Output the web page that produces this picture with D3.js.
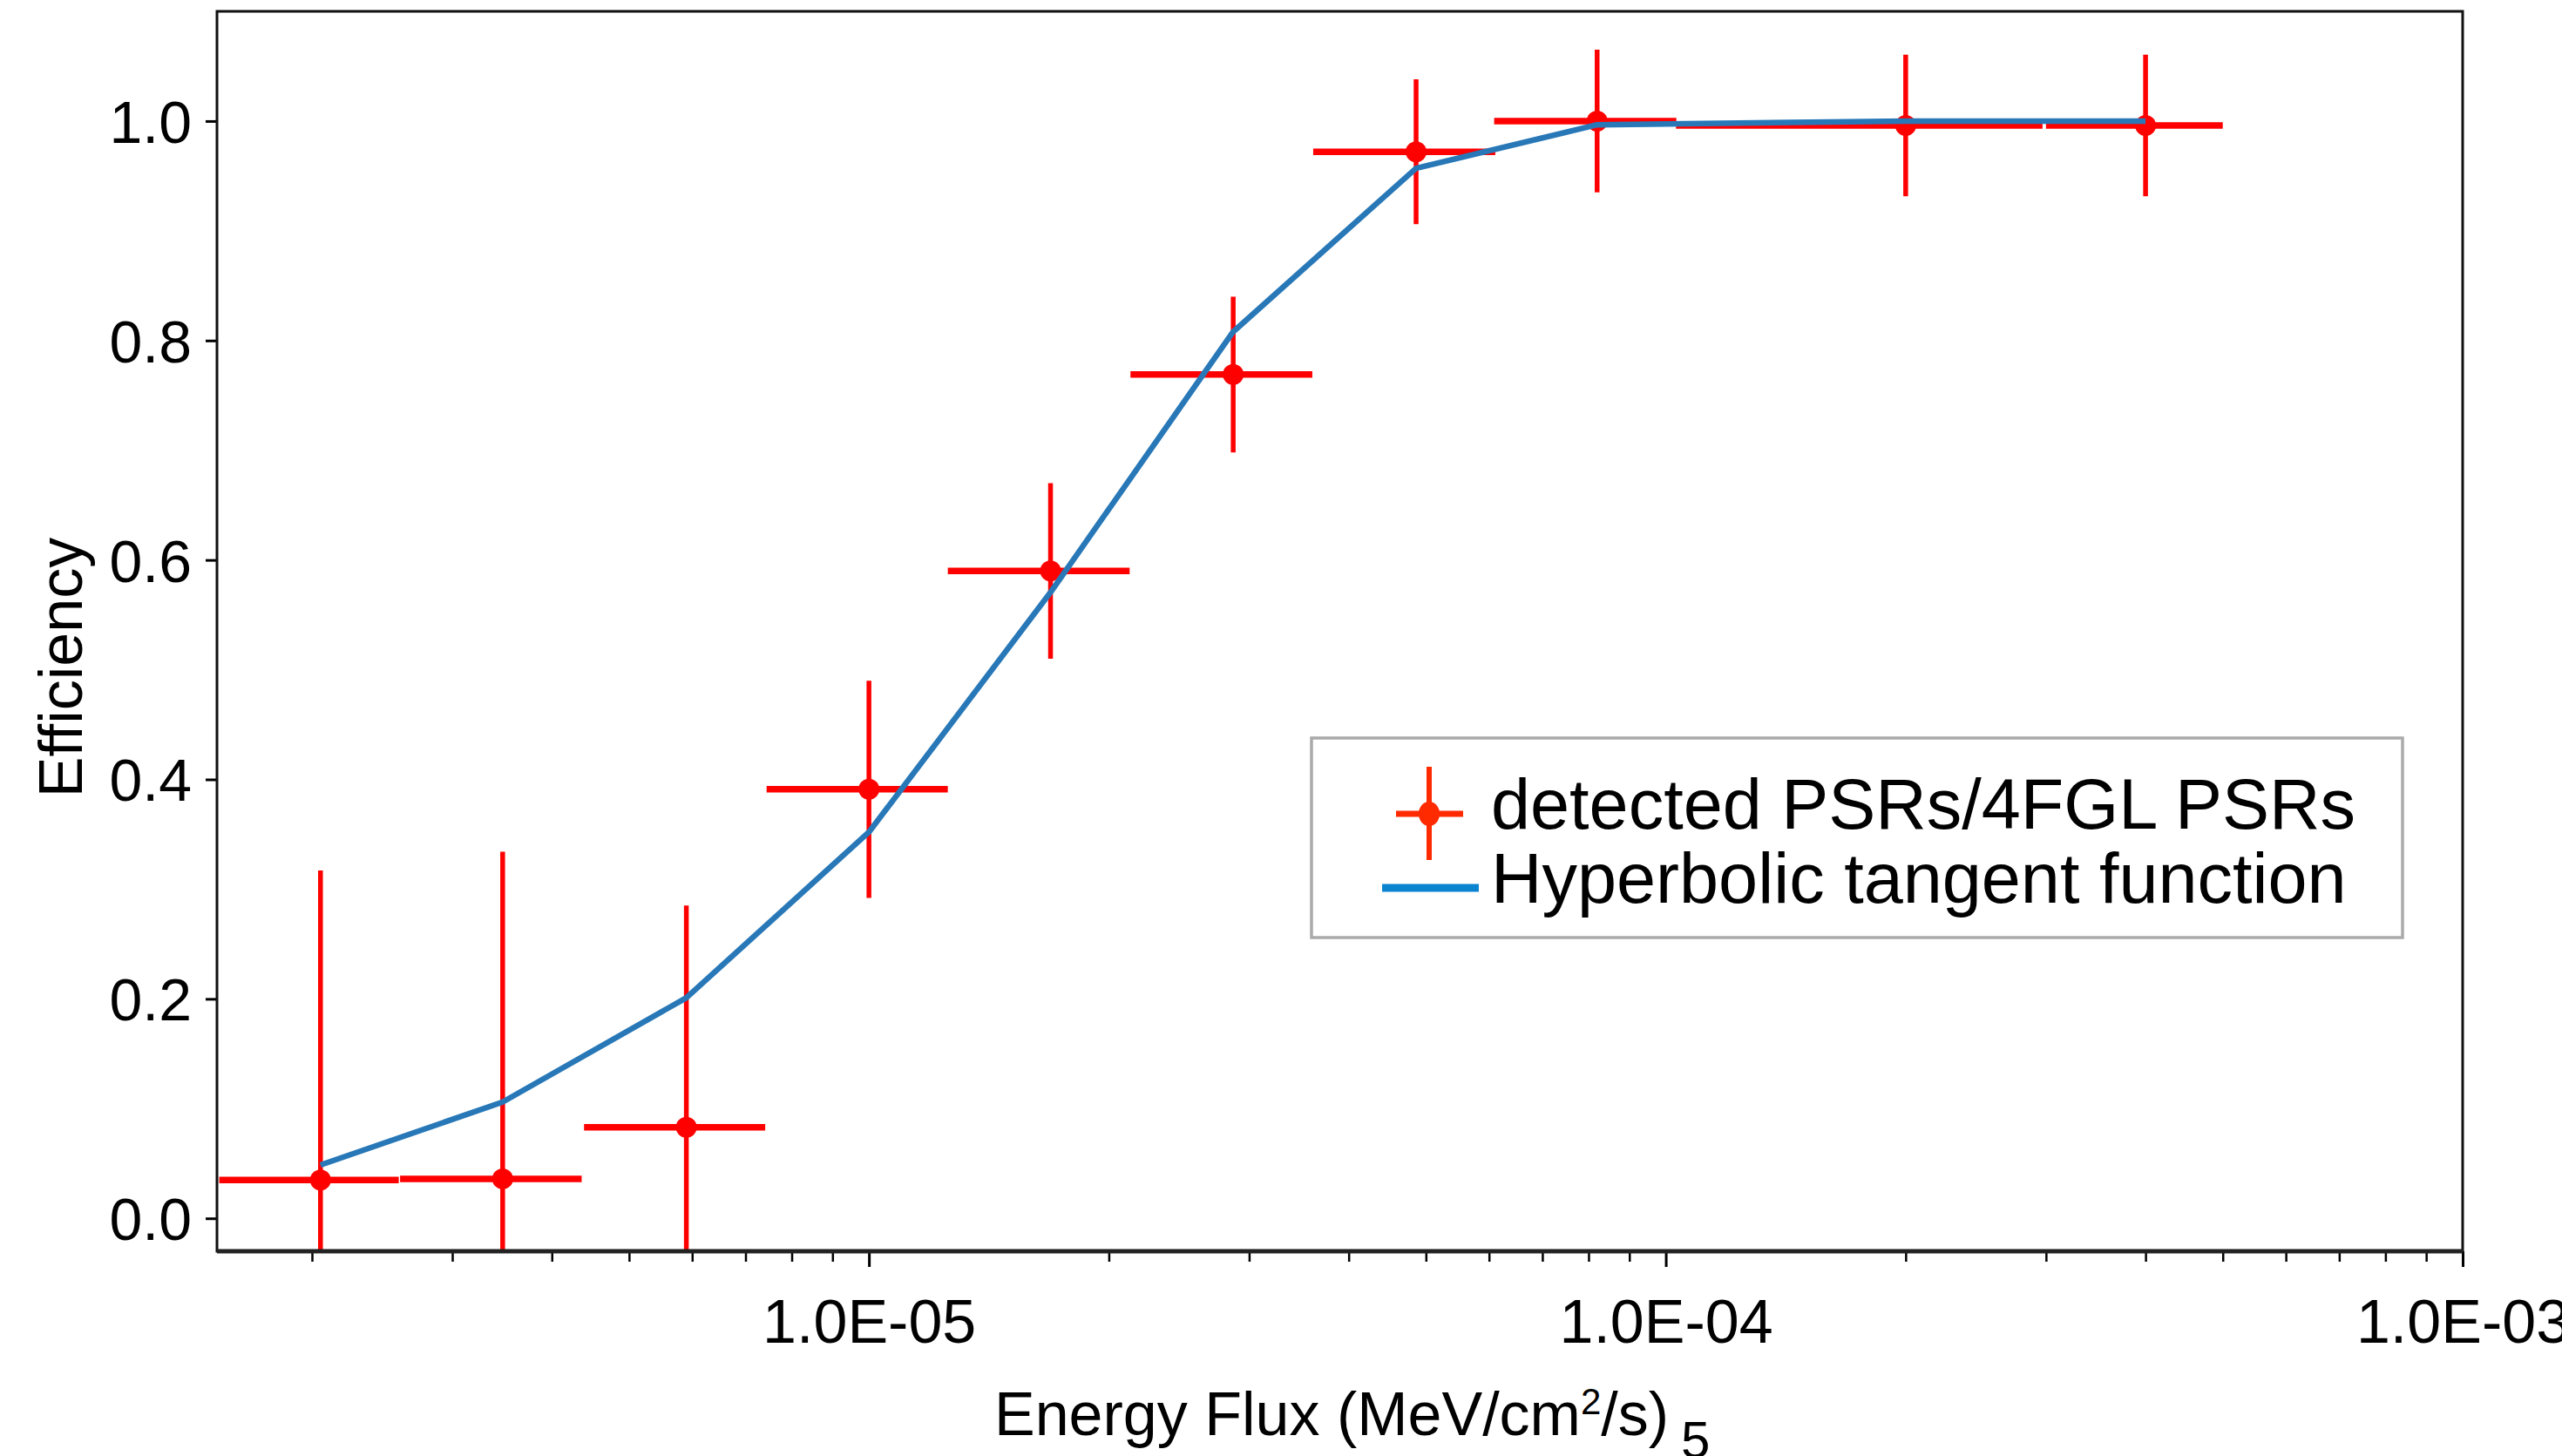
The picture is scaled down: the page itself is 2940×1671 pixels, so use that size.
<!DOCTYPE html>
<html>
<head>
<meta charset="utf-8">
<script src="https://cdn.jsdelivr.net/npm/d3@7"></script>
<style>
  html, body { margin: 0; padding: 0; background: #fff; }
  svg { display: block; font-family: "Liberation Sans", Arial, Helvetica, sans-serif; }
</style>
</head>
<body>
<div id="chart"></div>
<script>
// energy flux bin centres and half widths (MeV/cm2/s)
const fluxCenters = [2.05e-6, 3.47e-6, 5.9e-6, 1.0e-5, 1.69e-5, 2.865e-5, 4.86e-5, 8.2e-5, 2.0e-4, 4.0e-4];
const fluxHalfWidths = [0.52e-6, 0.89e-6, 1.51e-6, 2.56e-6, 4.34e-6, 7.36e-6, 1.25e-5, 2.11e-5, 0.97e-4, 1.0e-4];
// detected PSRs / 4FGL PSRs
const efficiency = [0.035, 0.036, 0.083, 0.391, 0.590, 0.769, 0.972, 1.000, 0.996, 0.996];
const efficiencyErr = [0.282, 0.298, 0.202, 0.099, 0.080, 0.071, 0.066, 0.065, 0.0645, 0.0645];
// hyperbolic tangent fit evaluated at bin centres
const tanhFit = [0.0486, 0.106, 0.201, 0.352, 0.5705, 0.808, 0.957, 0.9966, 1.0, 1.0];

const yTicks = [0.0, 0.2, 0.4, 0.6, 0.8, 1.0];
const xMajorTicks = [1e-5, 1e-4, 1e-3];
const legendLabels = ["detected PSRs/4FGL PSRs", "Hyperbolic tangent function"];

const W = 2940, H = 1671;
const margin = {top: 13, right: 114, bottom: 235, left: 249};
const width = W - margin.left - margin.right;
const height = H - margin.top - margin.bottom;

const svg = d3.select("#chart").append("svg")
    .attr("width", W).attr("height", H)
    .attr("viewBox", `0 0 ${W} ${H}`);

const g = svg.append("g").attr("transform", `translate(${margin.left},${margin.top})`);

const x = d3.scaleLog().domain([1.52e-6, 1e-3]).range([0, width]);
const y = d3.scaleLinear().domain([-0.03, 1.1]).range([height, 0]);

g.append("clipPath").attr("id", "plot-clip")
  .append("rect").attr("width", width).attr("height", height);

// minor ticks on the log axis
const minorTicks = [];
for (let e = -6; e <= -4; e++) {
    for (let m = 2; m <= 9; m++) {
        const v = m * Math.pow(10, e);
        if (v >= x.domain()[0] && v <= x.domain()[1]) minorTicks.push(v);
    }
}

const xMinor = g.append("g").attr("transform", `translate(0,${height})`)
    .call(d3.axisBottom(x).tickValues(minorTicks).tickSize(12).tickFormat(""));
xMinor.select(".domain").remove();
xMinor.selectAll("line").attr("stroke", "#000").attr("stroke-width", 2.5);

const fmt = d => "1.0E-" + String(-Math.round(Math.log10(d))).padStart(2, "0");
const xAxis = g.append("g").attr("transform", `translate(0,${height})`)
    .call(d3.axisBottom(x).tickValues(xMajorTicks).tickSize(18).tickPadding(37).tickFormat(fmt));
xAxis.select(".domain").remove();
xAxis.selectAll("line").attr("stroke", "#000").attr("stroke-width", 3);
xAxis.selectAll("text").attr("font-size", 70).attr("fill", "#000");

const yAxis = g.append("g")
    .call(d3.axisLeft(y).tickValues(yTicks).tickSize(13).tickPadding(16).tickFormat(d3.format(".1f")));
yAxis.select(".domain").remove();
yAxis.selectAll("line").attr("stroke", "#000").attr("stroke-width", 3);
yAxis.selectAll("text").attr("font-size", 68).attr("fill", "#000").attr("dy", "0.36em");

// data
const pts = fluxCenters.map((f, i) => ({
    f, hw: fluxHalfWidths[i], e: efficiency[i], err: efficiencyErr[i], fit: tanhFit[i]
}));

const plot = g.append("g").attr("clip-path", "url(#plot-clip)");
const red = "#ff0000";
const blue = "#2878b8";

plot.selectAll("line.xerr").data(pts).join("line").attr("class", "xerr")
    .attr("x1", d => x(d.f - d.hw)).attr("x2", d => x(d.f + d.hw))
    .attr("y1", d => y(d.e)).attr("y2", d => y(d.e))
    .attr("stroke", red).attr("stroke-width", 7.5);

plot.selectAll("line.yerr").data(pts).join("line").attr("class", "yerr")
    .attr("x1", d => x(d.f)).attr("x2", d => x(d.f))
    .attr("y1", d => y(d.e - d.err)).attr("y2", d => y(d.e + d.err))
    .attr("stroke", red).attr("stroke-width", 5.5);

plot.selectAll("circle.pt").data(pts).join("circle").attr("class", "pt")
    .attr("cx", d => x(d.f)).attr("cy", d => y(d.e)).attr("r", 12)
    .attr("fill", red);

plot.append("path").datum(pts)
    .attr("d", d3.line().x(d => x(d.f)).y(d => y(d.fit)))
    .attr("fill", "none").attr("stroke", blue).attr("stroke-width", 6.5)
    .attr("stroke-linejoin", "round");

// frame
g.append("rect").attr("width", width).attr("height", height)
    .attr("fill", "none").attr("stroke", "#111").attr("stroke-width", 3);
g.append("line").attr("x1", 0).attr("x2", width).attr("y1", height).attr("y2", height)
    .attr("stroke", "#222").attr("stroke-width", 5);

// axis titles
svg.append("text")
    .attr("transform", `translate(94,${766}) rotate(-90)`)
    .attr("text-anchor", "middle").attr("font-size", 70).attr("fill", "#000")
    .text("Efficiency");

const xt = svg.append("text").attr("x", 1141).attr("y", 1647)
    .attr("font-size", 70).attr("fill", "#000");
xt.append("tspan").text("Energy Flux (MeV/cm");
xt.append("tspan").attr("font-size", 42).attr("dy", -24).text("2");
xt.append("tspan").attr("dy", 24).text("/s)");
xt.append("tspan").attr("font-size", 60).attr("dy", 26).attr("dx", 14).text("5");

// legend
const lg = svg.append("g").attr("transform", "translate(1505,847)");
lg.append("rect").attr("width", 1252).attr("height", 229)
    .attr("fill", "#fff").attr("stroke", "#aaa").attr("stroke-width", 3.5);
const lRed = "#ff2a00";
lg.append("line").attr("x1", 135).attr("x2", 135).attr("y1", 33).attr("y2", 140)
    .attr("stroke", lRed).attr("stroke-width", 6);
lg.append("line").attr("x1", 97).attr("x2", 174).attr("y1", 87).attr("y2", 87)
    .attr("stroke", lRed).attr("stroke-width", 7);
lg.append("ellipse").attr("cx", 135).attr("cy", 87).attr("rx", 12).attr("ry", 14).attr("fill", lRed);
lg.append("line").attr("x1", 81).attr("x2", 192).attr("y1", 172).attr("y2", 172)
    .attr("stroke", "#0b84cf").attr("stroke-width", 9);
lg.selectAll("text.lab").data(legendLabels).join("text").attr("class", "lab")
    .attr("x", 206).attr("y", (d, i) => 104 + i * 85)
    .attr("font-size", 81).attr("fill", "#000")
    .text(d => d);
</script>
</body>
</html>
